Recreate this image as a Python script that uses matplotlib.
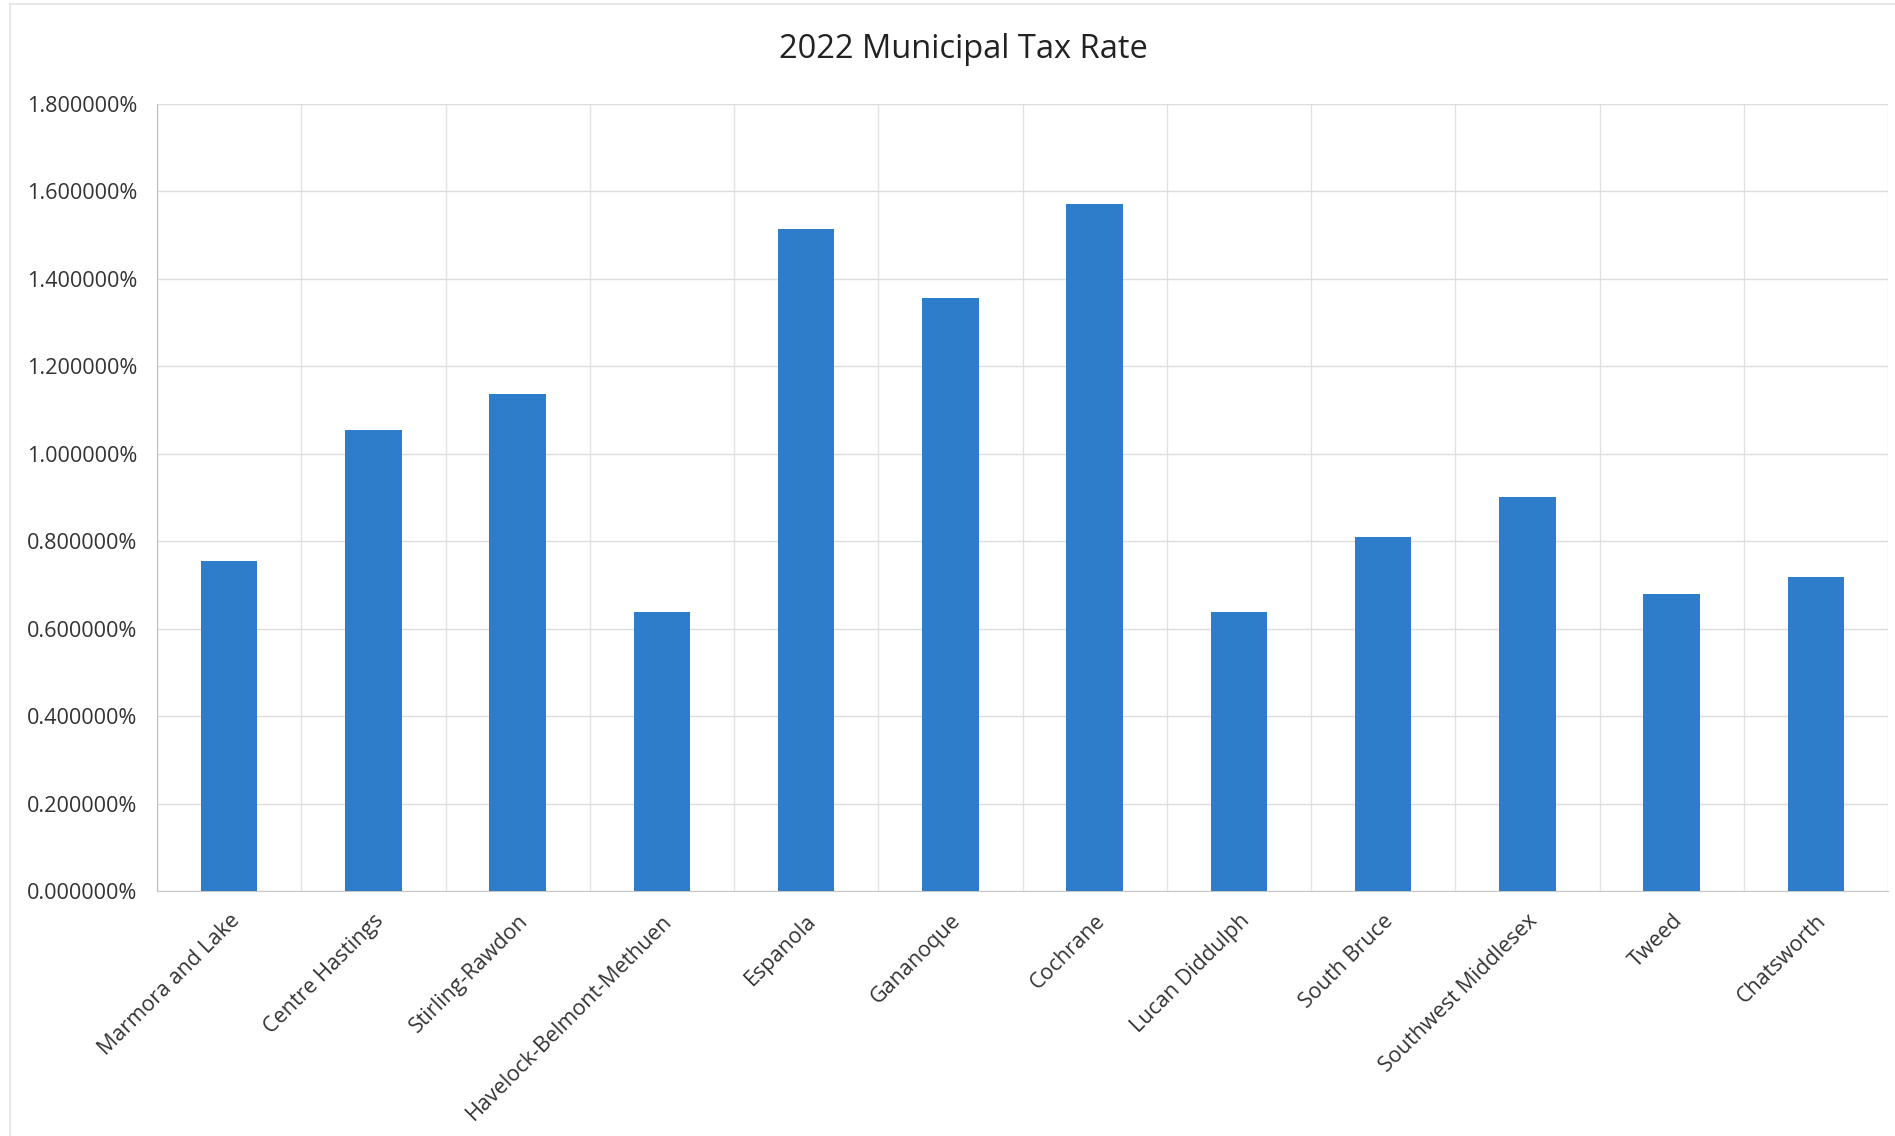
import matplotlib
matplotlib.use("Agg")
import matplotlib.pyplot as plt
from matplotlib.ticker import FuncFormatter, MultipleLocator
from matplotlib.lines import Line2D

# municipalities and their 2022 tax rate (percent)
towns = ["Marmora and Lake", "Centre Hastings", "Stirling-Rawdon",
         "Havelock-Belmont-Methuen", "Espanola", "Gananoque", "Cochrane",
         "Lucan Diddulph", "South Bruce", "Southwest Middlesex", "Tweed",
         "Chatsworth"]
rates = [0.755, 1.054, 1.137, 0.637, 1.514, 1.356, 1.572,
         0.637, 0.809, 0.902, 0.679, 0.718]

plt.rcParams['font.family'] = ['Open Sans', 'DejaVu Sans']

fig = plt.figure(figsize=(18.95, 11.36), dpi=100)
ax = fig.add_axes([157 / 1895, 1 - 891 / 1136, (1888 - 157) / 1895, (891 - 104) / 1136])

x = list(range(len(towns)))
ax.bar(x, rates, width=0.39, color="#2E7DCB", zorder=3)

ax.set_xlim(-0.5, len(towns) - 0.5)
ax.set_ylim(0, 1.8)
ax.yaxis.set_major_locator(MultipleLocator(0.2))
ax.yaxis.set_major_formatter(FuncFormatter(lambda v, p: f"{v:.6f}%"))

# vertical lines between categories, horizontal lines at each tick
ax.set_xticks([i - 0.5 for i in range(len(towns) + 1)], minor=True)
ax.grid(axis="y", which="major", color="#DCDCDC", lw=1.0, zorder=0)
ax.grid(axis="x", which="minor", color="#E2E2E2", lw=1.0, zorder=0)

ax.set_xticks(x)
ax.set_xticklabels(towns, rotation=45, ha="right", va="top",
                   rotation_mode="anchor", fontsize=15.5, color="#333333")
ax.tick_params(axis="x", which="both", length=0, pad=14)
ax.tick_params(axis="y", length=0, pad=14, labelsize=15.6, labelcolor="#333333")

for side in ["top", "right"]:
    ax.spines[side].set_visible(False)
ax.spines["left"].set_color("#BDBDBD")
ax.spines["bottom"].set_color("#C8C8C8")

fig.text(963 / 1895, 1 - 50 / 1136, "2022 Municipal Tax Rate",
         ha="center", va="center", fontsize=23.5, color="#222222")

# faint chart-area frame
fig.add_artist(Line2D([10 / 1895, 10 / 1895], [0, 1 - 4 / 1136],
                      color="#E4E4E4", lw=1.2, transform=fig.transFigure))
fig.add_artist(Line2D([10 / 1895, 1], [1 - 4 / 1136, 1 - 4 / 1136],
                      color="#E4E4E4", lw=1.2, transform=fig.transFigure))

fig.savefig("out.png", dpi=100, facecolor="white")
